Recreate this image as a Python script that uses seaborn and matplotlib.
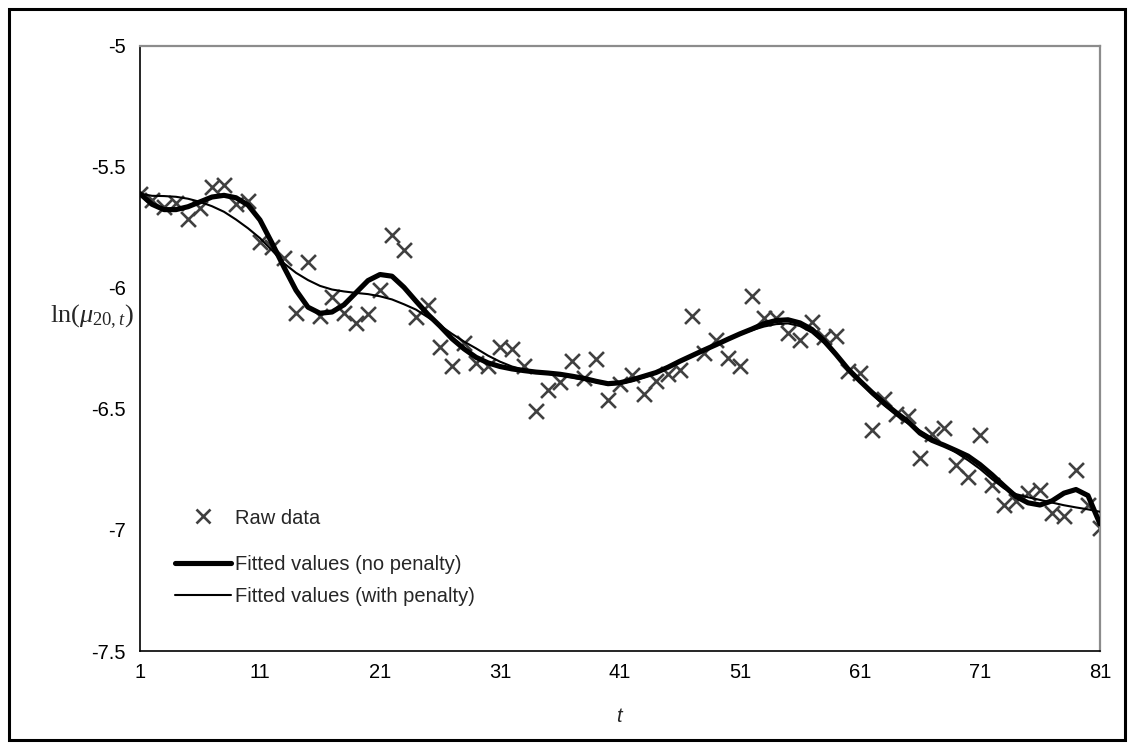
import numpy as np
import pandas as pd
import matplotlib
matplotlib.use("Agg")
import matplotlib.pyplot as plt
from matplotlib.patches import Rectangle
from matplotlib.lines import Line2D
import seaborn as sns

# Time index t = 1..81
t_values = list(range(1, 82))

# Observed log mortality rates ln(mu_{20,t})
raw_data = [
    -5.611, -5.636, -5.667, -5.650, -5.715, -5.669, -5.584, -5.574, -5.653, -5.643,
    -5.812, -5.833, -5.877, -6.104, -5.895, -6.118, -6.037, -6.104, -6.146, -6.109,
    -6.009, -5.781, -5.843, -6.120, -6.071, -6.244, -6.323, -6.226, -6.309, -6.323,
    -6.244, -6.251, -6.323, -6.509, -6.423, -6.389, -6.302, -6.371, -6.294, -6.465,
    -6.399, -6.361, -6.440, -6.385, -6.355, -6.341, -6.116, -6.268, -6.216, -6.288,
    -6.323, -6.033, -6.125, -6.123, -6.185, -6.215, -6.140, -6.203, -6.198, -6.343,
    -6.350, -6.589, -6.461, -6.520, -6.530, -6.703, -6.603, -6.578, -6.730, -6.783,
    -6.606, -6.813, -6.899, -6.882, -6.848, -6.834, -6.928, -6.941, -6.751, -6.896,
    -6.990,
]

# Fitted values without roughness penalty
fit_no_penalty = [
    -5.611, -5.655, -5.677, -5.677, -5.665, -5.645, -5.625, -5.618, -5.628, -5.658,
    -5.720, -5.815, -5.915, -6.010, -6.080, -6.105, -6.100, -6.070, -6.020, -5.970,
    -5.945, -5.952, -5.998, -6.055, -6.110, -6.158, -6.210, -6.252, -6.287, -6.310,
    -6.325, -6.335, -6.342, -6.348, -6.352, -6.357, -6.365, -6.374, -6.386, -6.396,
    -6.392, -6.380, -6.365, -6.350, -6.328, -6.303, -6.280, -6.257, -6.235, -6.212,
    -6.190, -6.170, -6.148, -6.135, -6.132, -6.145, -6.172, -6.218, -6.275, -6.335,
    -6.385, -6.432, -6.475, -6.515, -6.552, -6.600, -6.630, -6.650, -6.672, -6.695,
    -6.730, -6.772, -6.818, -6.862, -6.888, -6.897, -6.880, -6.848, -6.833, -6.858,
    -6.975,
]

# Fitted values with roughness penalty
fit_with_penalty = [
    -5.611, -5.620, -5.621, -5.624, -5.632, -5.645, -5.663, -5.686, -5.718, -5.754,
    -5.795, -5.845, -5.899, -5.938, -5.968, -5.992, -6.007, -6.015, -6.021, -6.026,
    -6.035, -6.048, -6.068, -6.090, -6.122, -6.155, -6.190, -6.222, -6.250, -6.280,
    -6.305, -6.325, -6.338, -6.347, -6.355, -6.362, -6.370, -6.380, -6.390, -6.400,
    -6.396, -6.385, -6.370, -6.352, -6.330, -6.305, -6.280, -6.258, -6.235, -6.212,
    -6.192, -6.175, -6.160, -6.150, -6.147, -6.158, -6.185, -6.228, -6.280, -6.335,
    -6.388, -6.440, -6.485, -6.525, -6.560, -6.590, -6.620, -6.650, -6.680, -6.712,
    -6.748, -6.790, -6.828, -6.852, -6.865, -6.876, -6.887, -6.898, -6.907, -6.915,
    -6.925,
]

x_tick_values = [1, 11, 21, 31, 41, 51, 61, 71, 81]
y_tick_values = [-7.5, -7.0, -6.5, -6.0, -5.5, -5.0]
y_tick_labels = ["-7.5", "-7", "-6.5", "-6", "-5.5", "-5"]

df = pd.DataFrame({
    "t": t_values,
    "raw": raw_data,
    "fit_np": fit_no_penalty,
    "fit_wp": fit_with_penalty,
})

sns.set_theme(style="white")
plt.rcParams["font.family"] = ["Liberation Sans", "DejaVu Sans"]
plt.rcParams["mathtext.fontset"] = "custom"
plt.rcParams["mathtext.rm"] = "Liberation Serif"
plt.rcParams["mathtext.it"] = "Liberation Serif:italic"

FS = 14.5
W, H = 1133, 749
fig = plt.figure(figsize=(W / 100, H / 100), dpi=100)
fig.patch.set_facecolor("white")
ax = fig.add_axes([140 / W, 1 - 651 / H, (1100 - 140) / W, (651 - 45.7) / H])
ax.set_facecolor("white")

sns.scatterplot(data=df, x="t", y="raw", ax=ax, marker="x", s=115,
                color="#404040", linewidth=1.9, zorder=2, legend=False)
sns.lineplot(data=df, x="t", y="fit_np", ax=ax, color="black", linewidth=3.7,
             zorder=3, legend=False)
sns.lineplot(data=df, x="t", y="fit_wp", ax=ax, color="black", linewidth=1.5,
             zorder=4, legend=False)

ax.set_xlim(1, 81)
ax.set_ylim(-7.5, -5.0)
ax.set_xticks(x_tick_values)
ax.set_xticklabels([str(v) for v in x_tick_values])
ax.set_yticks(y_tick_values)
ax.set_yticklabels(y_tick_labels)
ax.tick_params(axis="both", which="major", labelsize=FS, colors="black",
               direction="out", length=5, width=1.1)
ax.tick_params(axis="y", pad=5.0)
ax.tick_params(axis="x", pad=4.0)
ax.grid(False)

for side in ["left", "bottom"]:
    ax.spines[side].set_color("black")
    ax.spines[side].set_linewidth(1.2)
for side in ["top", "right"]:
    ax.spines[side].set_color("#8c8c8c")
    ax.spines[side].set_linewidth(1.6)

ax.set_xlabel("")
ax.set_ylabel("")
fig.text(619 / W, 1 - 717 / H, "t", fontsize=FS, style="italic",
         ha="center", va="center")
fig.text(92 / W, 1 - 317 / H, r"ln$(\mathit{\mu}_{20,\mathit{t}})$", fontsize=19,
         ha="center", va="center", family="Liberation Serif")

# Legend: marker entry on its own, then the two fitted curves
raw_handle = Line2D([], [], marker="x", linestyle="none", color="#404040",
                    markersize=10.7, markeredgewidth=1.9)
np_handle = Line2D([], [], color="black", linewidth=3.7)
wp_handle = Line2D([], [], color="black", linewidth=1.5)

leg_kw = dict(frameon=False, fontsize=FS, handlelength=2.8, handletextpad=0.2,
              borderaxespad=0, borderpad=0, loc="center left")
leg1 = ax.legend([raw_handle], ["Raw data"],
                 bbox_to_anchor=(175 / W, 1 - 518 / H),
                 bbox_transform=fig.transFigure, **leg_kw)
ax.add_artist(leg1)
ax.legend([np_handle, wp_handle],
          ["Fitted values (no penalty)", "Fitted values (with penalty)"],
          bbox_to_anchor=(175 / W, 1 - 580.5 / H),
          bbox_transform=fig.transFigure, labelspacing=0.62, **leg_kw)

# Outer chart border
fig.patches.append(Rectangle((8.5 / W, 9 / H), (W - 17) / W, (H - 18) / H,
                             transform=fig.transFigure, fill=False,
                             edgecolor="black", linewidth=2.2))

fig.savefig("out.png", dpi=100, facecolor="white")
